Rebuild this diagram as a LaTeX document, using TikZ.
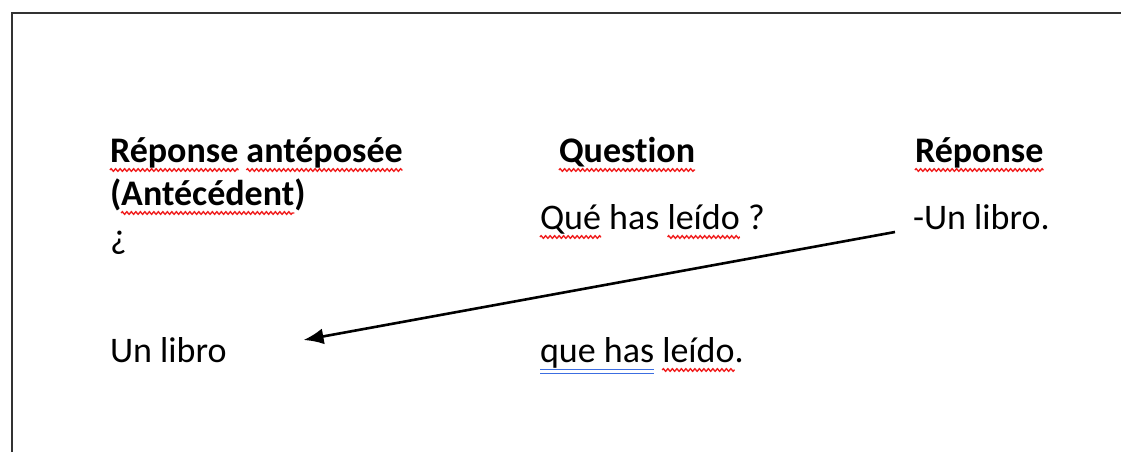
\documentclass[tikz,border=0pt]{standalone}
\usepackage{fontspec}
\setmainfont{Carlito}[Ligatures=NoCommon]
\usetikzlibrary{arrows.meta,calc,decorations.pathmorphing}
\definecolor{wordred}{RGB}{240,30,30}
\definecolor{wordblue}{RGB}{60,110,225}
\definecolor{framegray}{RGB}{50,50,50}

\newcommand\bigtext{\fontsize{18pt}{21.5pt}\selectfont}
\newcommand\spw{4.07pt}% width of one space at this size

\begin{document}
\begin{tikzpicture}[x=0.5pt, y=-0.5pt,
    hdr/.style={anchor=base west, inner sep=0pt, outer sep=0pt, font=\bigtext\bfseries},
    txt/.style={anchor=base west, inner sep=0pt, outer sep=0pt, font=\bigtext},
    attach/.style={at={(#1.base east)}},
    nextword/.style={at={(#1.base east)}, xshift=\spw},
    squig/.style={wordred, line width=0.7pt, decorate,
        decoration={zigzag, segment length=2.25pt, amplitude=0.65pt}},
    link/.style={-{Latex[length=10pt,width=8pt]}, line width=1.3pt}]
    \useasboundingbox (0,0) rectangle (1121,452);

    % --- frame (top and left edges) ---
    \draw[line width=1.1pt, framegray] (12,452) -- (12,13) -- (1121,13);

    % --- left column ---
    \node[hdr] (aw1) at (110,162) {Réponse};
    \node[hdr, nextword=aw1] (aw2) {antéposée};
    \node[hdr] (ap1) at (110,205) {(};
    \node[hdr, attach=ap1] (aw3) {Antécédent};
    \node[hdr, attach=aw3] (ap2) {)};
    \node[txt] (invQ) at (110,248) {¿};
    \node[txt] (ante) at (110,362) {Un libro};

    % --- middle column ---
    \node[hdr] (qHead) at (559,162) {Question};
    \node[txt] (q1) at (540,229) {Qué};
    \node[txt, nextword=q1] (q2) {has};
    \node[txt, nextword=q2] (q3) {leído};
    \node[txt, nextword=q3] (q4) {?};
    \node[txt] (r1) at (540,362) {que has};
    \node[txt, nextword=r1] (r2) {leído};
    \node[txt, attach=r2] (r3) {.};

    % --- right column ---
    \node[hdr] (rHead) at (915,162) {Réponse};
    \node[txt] (rText) at (913,229) {-Un libro.};

    % spelling marks
    \foreach \w in {aw1,aw2,aw3,qHead,q1,q3,rHead,r2}
        \draw[squig] ($(\w.base west)+(0,8)$) -- ($(\w.base east)+(0,8)$);
    % grammar mark
    \foreach \dy in {7.5,11.5}
        \draw[wordblue, line width=0.7pt] ($(r1.base west)+(0,\dy)$) -- ($(r1.base east)+(0,\dy)$);

    % answer moved in front
    \draw[link] ($(rText.base west)+(-18,3)$) -- ($(ante.base east)+(77,-22)$);
\end{tikzpicture}
\end{document}
